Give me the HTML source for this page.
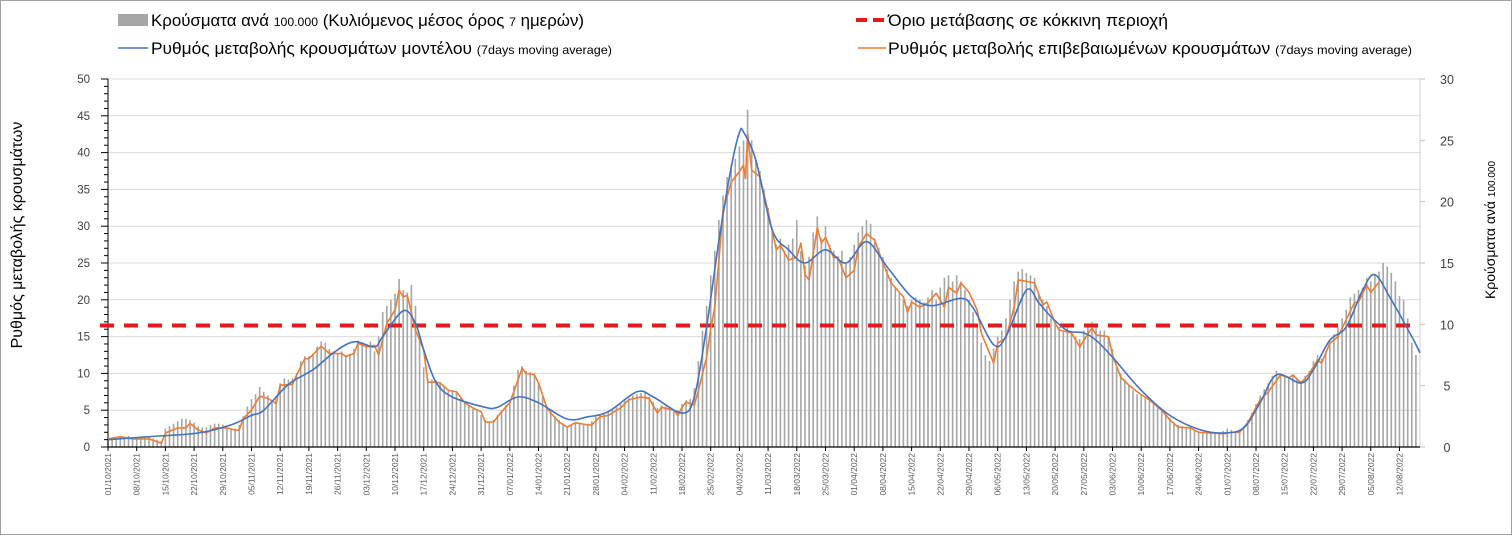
<!DOCTYPE html>
<html><head><meta charset="utf-8">
<style>
html,body{margin:0;padding:0;background:#fff;}
body{width:1512px;height:535px;overflow:hidden;font-family:"Liberation Sans",sans-serif;}
#frame{position:absolute;left:0;top:0;width:1510px;height:533px;border:1px solid #a0a0a0;}
svg text{font-family:"Liberation Sans","DejaVu Sans",sans-serif;}
</style></head><body>
<div id="frame"></div>
<svg id="chart" width="1512" height="535" style="position:absolute;left:0;top:0">
<g>
 <g>
  <rect x="118" y="14" width="30" height="12" fill="#a6a6a6"/>
  <text x="151" y="26" font-size="16.5" fill="#000" textLength="433" lengthAdjust="spacingAndGlyphs">Κρούσματα ανά <tspan font-size="12">100.000</tspan> (Κυλιόμενος μέσος όρος <tspan font-size="12">7</tspan> ημερών)</text>
 </g>
 <g>
  <line x1="118" y1="48" x2="148" y2="48" stroke="#4472c4" stroke-width="1.5"/>
  <text x="151" y="54" font-size="16.5" fill="#000" textLength="461" lengthAdjust="spacingAndGlyphs">Ρυθμός μεταβολής κρουσμάτων μοντέλου <tspan font-size="12">(7days moving average)</tspan></text>
 </g>
 <g>
  <line x1="856" y1="20" x2="886" y2="20" stroke="#e41a1a" stroke-width="4" stroke-dasharray="11,6"/>
  <text x="888" y="26" font-size="16.5" fill="#000" textLength="280" lengthAdjust="spacingAndGlyphs">Όριο μετάβασης σε κόκκινη περιοχή</text>
 </g>
 <g>
  <line x1="858" y1="48" x2="886" y2="48" stroke="#ed7d31" stroke-width="1.5"/>
  <text x="888" y="54" font-size="16.5" fill="#000" textLength="524" lengthAdjust="spacingAndGlyphs">Ρυθμός μεταβολής επιβεβαιωμένων κρουσμάτων <tspan font-size="12">(7days moving average)</tspan></text>
 </g>
</g>
<text transform="translate(22,235) rotate(-90)" text-anchor="middle" font-size="16" fill="#000">Ρυθμός μεταβολής κρουσμάτων</text>
<text transform="translate(1495,230) rotate(-90)" text-anchor="middle" font-size="14" fill="#000">Κρούσματα ανά <tspan font-size="10">100.000</tspan></text>
<g id="grid"></g>
<g id="bars"></g>
<g id="axes"></g>
<g id="lines"></g>
</svg>
<script>
const startDate = [2021, 9, 1];
const leftTicks = [0,5,10,15,20,25,30,35,40,45,50];
const rightTicks = [0,5,10,15,20,25,30];
const threshold = [16.5];
const barValues = [
0.7,0.7,0.8,0.8,0.8,0.9,0.7,0.7,0.8,0.8,
0.8,0.7,0.6,0.5,1.5,1.7,1.9,2.1,2.3,2.3,
2.2,2.0,1.7,1.6,1.6,1.8,1.9,1.9,1.8,1.6,
1.5,1.5,1.8,2.5,3.3,3.9,4.3,4.9,4.5,4.2,
3.6,3.9,5.2,5.6,5.5,5.6,6.0,7.0,7.4,7.4,
7.6,8.2,8.6,8.5,8.0,7.8,7.6,7.8,7.5,7.6,
8.0,8.7,8.5,8.4,8.6,7.8,9.0,11.0,11.5,12.0,
12.5,13.7,12.8,12.6,13.2,11.5,9.0,6.5,5.6,5.5,
5.4,5.3,4.9,4.7,4.6,4.5,4.0,3.7,3.4,3.1,
3.0,2.6,2.2,2.1,2.2,2.6,3.0,3.4,3.8,5.0,
6.3,6.6,6.2,6.1,6.0,5.3,4.2,3.4,2.9,2.5,
2.2,1.9,1.7,1.8,2.0,1.9,1.8,1.9,2.1,2.5,
2.6,2.8,2.9,3.1,3.3,3.5,3.8,4.0,4.2,4.3,
4.4,4.5,4.1,3.7,3.2,3.4,3.3,3.1,2.9,3.0,
3.5,3.8,3.9,4.8,7.0,9.5,11.5,14.0,16.0,18.5,
20.5,22.0,23.0,23.5,24.5,25.0,27.5,25.0,23.5,22.5,
21.0,19.5,17.5,16.5,17.0,16.0,16.5,17.0,18.5,16.0,
14.8,15.5,17.5,18.8,17.0,18.0,16.5,16.0,15.5,16.0,
15.0,15.5,16.5,17.5,18.0,18.5,18.2,17.0,16.2,15.5,
14.5,13.8,13.0,12.5,12.0,11.5,12.0,12.2,12.0,11.8,
12.2,12.8,12.0,13.0,13.8,14.0,13.5,14.0,13.5,12.8,
12.0,11.0,10.0,8.5,7.5,7.0,8.0,9.0,9.5,10.5,
12.0,13.5,14.3,14.5,14.2,14.0,13.8,12.5,12.0,11.5,
10.5,10.0,9.8,9.5,9.8,9.3,9.0,8.8,9.5,10.0,
10.2,9.8,9.5,9.5,9.0,8.0,6.5,6.0,5.5,5.0,
4.6,4.3,4.2,4.0,3.8,3.5,3.3,3.0,2.7,2.4,
2.0,1.8,1.7,1.6,1.6,1.4,1.3,1.2,1.2,1.1,
1.1,1.2,1.3,1.5,1.4,1.3,1.4,1.7,2.2,2.8,
3.5,4.2,4.7,5.2,5.8,6.2,6.0,5.8,5.7,5.8,
5.6,5.4,5.8,6.2,7.0,7.5,7.2,7.8,8.6,9.2,
9.8,10.5,11.2,12.2,12.5,12.8,13.0,13.8,13.5,14.0,
14.3,15.0,14.7,14.2,13.5,12.3,12.0,10.5,8.5,7.5];
const confirmedDays = [0,3,6,10,13,14,17,19,20,22,24,26,29,31,32,33,35,37,39,41,42,45,46,48,49,52,54,57,58,60,61,63,65,66,68,70,71,72,73,74,75,77,78,80,81,83,85,87,89,91,92,94,96,98,100,101,102,104,105,107,108,110,112,114,117,118,120,122,125,127,130,132,134,135,138,139,140,141,143,144,146,147,148,149,150,152,154,155,155.5,156,157,159,161,163,164,166,168,169,170,171,173,174,175,177,178,180,182,183,185,187,189,191,194,195,196,198,200,202,204,205,207,208,210,212,213,216,217,219,221,222,225,226,228,229,231,232,235,237,238,240,241,244,245,247,249,252,254,257,259,261,264,266,269,272,274,276,278,281,283,286,288,289,291,293,295,296,298,300,302,304,305,307,308,310];
const confirmedValues = [1.1,1.4,1.1,1.1,0.5,1.9,2.6,2.6,3.2,2.3,1.9,2.6,2.6,2.3,2.3,3.9,5,6.9,6.6,5.9,8.4,8.5,9.8,12,12,13.7,12.7,12.7,12.3,12.7,14.1,13.6,13.8,12.5,16.8,18.6,21.3,20.4,20.6,18.2,15.9,13.2,8.8,8.8,8.7,7.7,7.5,6,5.3,4.8,3.4,3.4,4.8,6,9.1,10.7,10,9.8,8.7,5.4,4.6,3.4,2.7,3.3,3,3,4.1,4.3,5.3,6.4,6.8,6.6,4.6,5.4,5,4.3,5.4,6.1,5.7,7.7,12.2,16,19,25.4,32,36,37.4,38.3,36.5,42.6,37.6,36.7,32,26.8,27.4,25.4,25.8,27.7,23.4,22.7,29.8,27.7,28.5,25.7,25.8,23,24,27.2,29,28.1,25,22.3,20.4,18.3,19.7,19,19.6,20.9,19,21.7,20.9,22.3,21,18.6,15.5,11.4,14.1,14.8,19,22.7,22.4,22.3,19.3,19.7,16.8,15.9,15.5,13.6,14.5,16.2,15.2,15,12.5,9.5,8.4,7.1,6.4,5,3.7,2.7,2.6,2,1.9,1.8,2,2,3.3,6.4,7.5,9.8,9.4,9.8,8.7,10,11.8,11.4,14.1,15,17.3,19.6,19.7,22,21,22.4];
const modelDays = [0,10,22,30,35,38,44,50,55,60,65,67,72,75,77,80,84,92,95,100,105,112,117,122,129,133,140,143,146,149,152,154,155,158,162,166,170,175,180,185,190,196,201,208,211,216,219,224,227,230,234,238,241,245,252,259,266,272,277,281,285,291,294,298,302,306,309,313,318,320];
const modelValues = [1.0,1.4,1.9,3.0,4.3,5.0,8.5,10.5,12.8,14.3,13.6,15,18.5,16.8,13.2,8.8,6.8,5.4,5.4,6.8,6.0,3.8,4.1,4.8,7.5,6.8,4.6,6.8,16.3,28,38,42.7,42.8,39,29.5,26.8,25,26.8,25,27.9,24.5,20.4,19.2,20.2,18.9,13.9,15,21.3,19.6,17.7,15.8,15.5,14.5,12.2,7.7,4.3,2.4,1.9,2.6,6,9.8,8.7,10.5,14.5,16.3,21.3,23.4,20,15,12.8];

const X0 = 108, PXD = 4.1, Y0 = 447, YTOP = 79, XR = 1420;
const NS = 'http://www.w3.org/2000/svg';
const xAt = d => X0 + d * PXD;
const yL = v => Y0 - v / 50 * (Y0 - YTOP);
const yR = v => Y0 - v / 30 * (Y0 - YTOP);
function mk(tag, attrs, parent) {
  const e = document.createElementNS(NS, tag);
  for (const k in attrs) e.setAttribute(k, attrs[k]);
  parent.appendChild(e);
  return e;
}
const grid = document.getElementById('grid');
const axes = document.getElementById('axes');
const bars = document.getElementById('bars');
const lines = document.getElementById('lines');

leftTicks.forEach(t => {
  if (t > 0) {
    const g = mk('line', {x1: X0, x2: XR, y1: yL(t), y2: yL(t), stroke: '#d9d9d9', 'stroke-width': 1}, grid);
    
    
  }
  const lb = mk('text', {x: 90, y: yL(t) + 4, 'text-anchor': 'end', 'font-size': 11.5, fill: '#404040'}, axes);
  lb.textContent = t;
  
  
});
for (let v = 0; v <= 50; v++) {
  const tk = mk('line', {x1: v % 5 === 0 ? X0 - 7 : X0 - 4, x2: X0, y1: yL(v), y2: yL(v), stroke: '#000', 'stroke-width': 1}, axes);
  
  
}
rightTicks.forEach(t => {
  const lb = mk('text', {x: 1447, y: yR(t) + 5, 'text-anchor': 'middle', 'font-size': 12.5, fill: '#404040'}, axes);
  lb.textContent = t;
  
  
  const tk = mk('line', {x1: XR, x2: XR + 5, y1: yR(t), y2: yR(t), stroke: '#bfbfbf'}, axes);
  
  
});
const ral = mk('line', {x1: XR, x2: XR, y1: YTOP, y2: Y0, stroke: '#d0d0d0'}, axes);


const lal = mk('line', {x1: X0, x2: X0, y1: YTOP, y2: Y0, stroke: '#000'}, axes);


const xal = mk('line', {x1: X0, x2: XR, y1: Y0, y2: Y0, stroke: '#000', 'stroke-width': 1.2}, axes);



barValues.forEach((v, i) => {
  const b = mk('rect', {x: xAt(i) - 0.8, y: yR(v), width: 1.6, height: Y0 - yR(v), fill: '#a6a6a6'}, bars);
  
  
});

const base = new Date(startDate[0], startDate[1], startDate[2]);
for (let d = 0; d <= 315; d += 7) {
  const dt = new Date(base.getTime() + d * 86400000);
  const s = String(dt.getDate()).padStart(2, '0') + '/' + String(dt.getMonth() + 1).padStart(2, '0') + '/' + dt.getFullYear();
  const x = xAt(d);
  const tk = mk('line', {x1: x, x2: x, y1: Y0, y2: Y0 + 4, stroke: '#000'}, axes);
  
  
  const lb = mk('text', {transform: `translate(${x + 3},${Y0 + 6}) rotate(-90)`, 'text-anchor': 'end', 'font-size': 8.5, fill: '#595959'}, axes);
  lb.textContent = s;
  
  
}

const th = mk('line', {x1: 100, x2: XR, y1: yL(threshold[0]), y2: yL(threshold[0]), stroke: '#e41a1a', 'stroke-width': 4, 'stroke-dasharray': '14,10'}, lines);



let od = confirmedDays.map((d, i) => (i ? 'L' : 'M') + xAt(d).toFixed(1) + ',' + yL(confirmedValues[i]).toFixed(1)).join(' ');
const ol = mk('path', {d: od, fill: 'none', stroke: '#ed7d31', 'stroke-width': 1.6, 'stroke-linejoin': 'round'}, lines);



const pts = modelDays.map((d, i) => [xAt(d), yL(modelValues[i])]);
let bd = 'M' + pts[0][0] + ',' + pts[0][1];
for (let i = 0; i < pts.length - 1; i++) {
  const p0 = pts[Math.max(0, i - 1)], p1 = pts[i], p2 = pts[i + 1], p3 = pts[Math.min(pts.length - 1, i + 2)];
  const c1 = [p1[0] + (p2[0] - p0[0]) / 6, p1[1] + (p2[1] - p0[1]) / 6];
  const c2 = [p2[0] - (p3[0] - p1[0]) / 6, p2[1] - (p3[1] - p1[1]) / 6];
  bd += ` C${c1[0].toFixed(1)},${c1[1].toFixed(1)} ${c2[0].toFixed(1)},${c2[1].toFixed(1)} ${p2[0].toFixed(1)},${p2[1].toFixed(1)}`;
}
const bl = mk('path', {d: bd, fill: 'none', stroke: '#4472c4', 'stroke-width': 1.6}, lines);


</script>
</body></html>
